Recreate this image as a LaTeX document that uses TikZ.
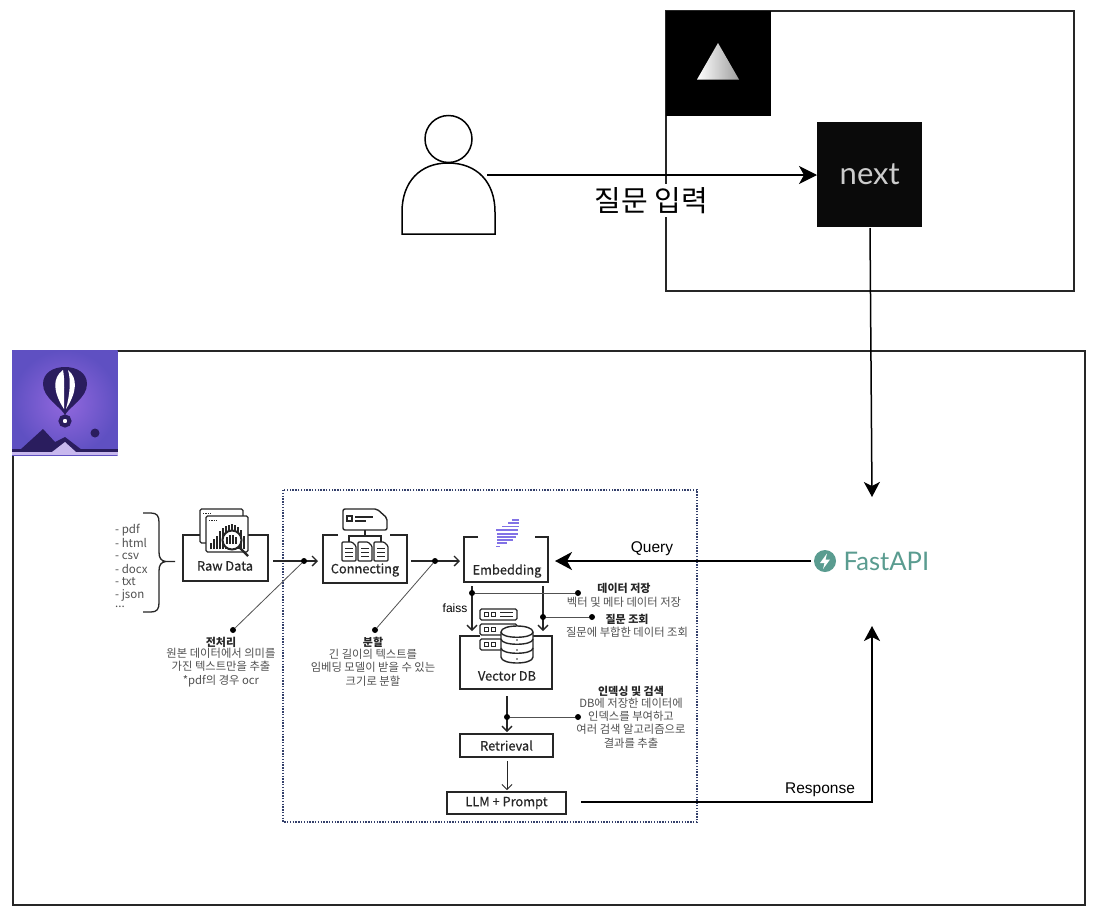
\documentclass[tikz,border=0pt]{standalone}
\usepackage{fontspec}
\setmainfont{Liberation Sans}
\newfontfamily\kr{Noto Sans CJK KR}
\newfontfamily\krm[FakeBold=0.5]{Noto Sans CJK KR}
\newfontfamily\lat{Lato}
\usetikzlibrary{arrows.meta,calc}
\definecolor{navy}{HTML}{2A1D5E}
\definecolor{dotnavy}{HTML}{34406B}
\definecolor{teal}{HTML}{5A9C90}
\definecolor{inkc}{HTML}{262626}
\definecolor{grayc}{HTML}{505050}
\definecolor{stripe}{HTML}{8272E6}
\definecolor{purplein}{HTML}{9268DE}
\definecolor{purpleout}{HTML}{5F50C2}
\definecolor{lav}{HTML}{C8B8EE}
\tikzset{
  frame/.style={draw=black!85,line width=1.5pt},
  strong/.style={draw=black,line width=2pt,-{Stealth[length=17pt,width=18pt,inset=5pt]}},
  thin arrow/.style={draw=inkc,line width=1.3pt,-{Straight Barb[length=5pt,width=10pt]}},
  leader/.style={draw=inkc!80,line width=.8pt},
  pin/.style={circle,fill=black,inner sep=0pt,minimum size=6pt},
  open box/.style={draw=inkc,line width=1.2pt},
  closed box/.style={draw=inkc,line width=1.2pt,fill=white,inner sep=0pt},
  box label/.style={font=\krm\fontsize{12.8}{15}\selectfont,text=inkc,inner sep=0pt},
  head text/.style={font=\kr\bfseries\fontsize{11}{12}\selectfont,text=inkc,inner sep=0pt},
  body text/.style={font=\kr\fontsize{11.3}{13.3}\selectfont,text=grayc,inner sep=0pt,align=center},
  list text/.style={font=\kr\fontsize{11.5}{13}\selectfont,text=grayc,inner sep=0pt,anchor=west},
  icon/.style={draw=inkc,line width=1.3pt,fill=white,rounded corners=1.5pt},
  side label/.style={font=\fontsize{15.5}{17}\selectfont,inner sep=0pt},
}
\begin{document}
\begin{tikzpicture}[x=1pt,y=-1pt]
\useasboundingbox (0,0) rectangle (1108,916);
\fill[white] (0,0) rectangle (1108,916);

% ---------- frames ----------
\draw[frame] (666,11) rectangle (1074,291);
\draw[frame] (13,351) rectangle (1085,905);

% ---------- top black squares ----------
\node[fill=black,minimum size=105pt,inner sep=0pt,anchor=north west] (vercel) at (666,11) {};
\shade[left color=white,middle color=white,right color=black!38]
  (718,43) -- (739,79.5) -- (697,79.5) -- cycle;
\node[fill=black!96,minimum size=105pt,inner sep=0pt,anchor=north west,
      font=\lat\fontsize{31}{33}\selectfont,text=black!20] (next) at (817,122) {next};

% ---------- user ----------
\draw[draw=black,line width=1.5pt,fill=white] (448.5,139) circle (23.5);
\draw[draw=black,line width=1.5pt,fill=white]
  (402,234) -- (402,212) .. controls (402,182) and (420,163) .. (448,163)
  .. controls (477,163) and (495,182) .. (495,212) -- (495,234) -- cycle;
\coordinate (userout) at (487,175);
\coordinate (nextin) at (next.west);
\draw[draw=black,line width=1.6pt,-{Stealth[length=18pt,width=18pt,inset=5pt]}] (userout) -- (nextin |- userout);
\node[fill=white,inner sep=0pt,minimum height=33pt,font=\kr\fontsize{29}{31}\selectfont] (asklabel) at (651.5,200.5) {질문 입력};

% ---------- balloon icon ----------
\node[inner sep=0pt,minimum width=105.5pt,minimum height=105pt,anchor=north west] (logo) at (12,350) {};
\shade[inner color=purplein,outer color=purpleout]
  (12,350) rectangle (117.5,455);
\draw[navy,line width=4pt,fill=white] (65,421) circle (4.5);
\fill[navy] (65,415) .. controls (61,407) and (43,398) .. (43,384)
  .. controls (43,373) and (53,367) .. (65,367)
  .. controls (77,367) and (87,373) .. (87,384)
  .. controls (87,398) and (69,407) .. (65,415) -- cycle;
\fill[white] (63,370) .. controls (52,378) and (53,392) .. (64,409)
  .. controls (64,394) and (65,380) .. (63,370) -- cycle;
\fill[white] (68,370) .. controls (78,378) and (77,392) .. (66,409)
  .. controls (70,394) and (71,380) .. (68,370) -- cycle;
\fill[navy] (95,433) circle (4.5);
\fill[navy] (20,450) -- (43,429) -- (55,442) -- (65,437) -- (82,450) -- cycle;
\fill[navy] (12,449) rectangle (117.5,452);
\fill[lav] (12,452) rectangle (117.5,455);
\fill[lav] (52,452) -- (65,442) -- (76,452) -- cycle;

% ---------- dotted container ----------
\draw[dotnavy,line width=1.4pt,dash pattern=on 1.4pt off 1.4pt] (283,490) rectangle (697,822);

% ---------- source list ----------
\node[list text] (l1) at (115,530) {- pdf};
\node[list text] (l2) at (115,543) {- html};
\node[list text] (l3) at (115,556) {- csv};
\node[list text] (l4) at (115,569) {- docx};
\node[list text] (l5) at (115,582) {- txt};
\node[list text] (l6) at (115,595) {- json};
\node[list text] (l7) at (115,607) {...};
\draw[inkc,line width=1.3pt] (143,513) -- (151,513) .. controls (157,513) and (159,516) .. (159,522)
  -- (159,552) .. controls (159,558) and (161,561) .. (166,561.5) -- (175,561.5)
  (166,561.5) .. controls (161,562) and (159,565) .. (159,571)
  -- (159,603) .. controls (159,609) and (157,612) .. (151,612) -- (143,612);

% ---------- Raw Data ----------
\draw[open box] (200,535) -- (183,535) -- (183,581) -- (268,581) -- (268,535) -- (248,535);
\draw[icon] (200,509) rectangle (243,543);
\draw[inkc,line width=1pt,dash pattern=on 1.2pt off 1.2pt] (203,513) -- (212,513);
\draw[icon] (206,516) rectangle (248,552);
\draw[inkc,line width=1pt,dash pattern=on 1.2pt off 1.2pt] (209,520) -- (218,520);
\foreach \x/\t in {211/543,214/539,217/536,220/531,223/528,226/526,229/525,232/524,235/525,238/527,241/530,244/536}
  \draw[inkc,line width=1.1pt] (\x,549) -- (\x,\t);
\draw[draw=inkc,line width=2pt,fill=white] (232,540) circle (9.5);
\foreach \x/\t in {227/537,230/535,233/535,236/537}
  \draw[inkc,line width=1.1pt] (\x,544) -- (\x,\t);
\draw[inkc,line width=2.4pt] (239,547) -- (248,556);
\node[box label] (raw) at (225,566) {Raw Data};

% ---------- Connecting ----------
\draw[open box] (338,535) -- (323,535) -- (323,583) -- (407,583) -- (407,535) -- (390,535);
\draw[draw=inkc,line width=1.4pt,fill=white,rounded corners=2pt]
  (343,509) -- (377,509) -- (387,518) -- (387,530) -- (343,530) -- cycle;
\draw[inkc,line width=1.1pt] (347,516) rectangle (352,521) (355,517) -- (373,517) (355,521) -- (366,521);
\draw[inkc,line width=1.1pt] (365,530) -- (365,536) (349,542) -- (349,536) -- (381,536) -- (381,542);
\foreach \x in {349,365,381}{
  \draw[draw=inkc,line width=1.2pt,fill=white,rounded corners=1pt] (\x-7,542) -- (\x+3,542) -- (\x+7,546) -- (\x+7,561) -- (\x-7,561) -- cycle;
  \draw[inkc,line width=.9pt] (\x-4,548) -- (\x+4,548) (\x-4,552) -- (\x+4,552) (\x-4,556) -- (\x+4,556);
}
\node[box label] (conn) at (365,570) {Connecting};

% ---------- Embedding ----------
\draw[open box] (478,537) -- (464,537) -- (464,582) -- (548,582) -- (548,537) -- (535,537);
\foreach \y/\a/\b in {520/512/519,523/508/518.5,526.5/502/518.5,530/496/518,534/497/518,537/497/516,540/497/513,543/497/507,546.5/496/500}
  \draw[stripe,line width=1.5pt] (\a,\y) -- (\b,\y);
\node[box label] (emb) at (507,571) {Embedding};

% ---------- Vector DB ----------
\draw[open box] (480,636) -- (460,636) -- (460,689) -- (552,689) -- (552,636) -- (533,636);
\foreach \y in {609,624,639}{
  \draw[icon] (480,\y) rectangle (517,\y+11);
  \draw[inkc,line width=1pt] (484,\y+3.5) rectangle (488,\y+7.5) (491,\y+3.5) rectangle (495,\y+7.5);
}
\draw[inkc,line width=1pt] (500,612.5) -- (513,612.5) (500,616) -- (513,616);
\draw[draw=inkc,line width=1.4pt,fill=white]
  (501,632) -- (501,657) .. controls (501,665) and (533,665) .. (533,657) -- (533,632)
  .. controls (533,624) and (501,624) .. (501,632) -- cycle;
\draw[inkc,line width=1.4pt] (501,632) .. controls (501,639) and (533,639) .. (533,632)
  (501,639) .. controls (501,646) and (533,646) .. (533,639)
  (501,648) .. controls (501,655) and (533,655) .. (533,648);
\foreach \y in {640,650,659} \fill[inkc] (517,\y) circle (.9);
\node[box label] (vdb) at (507,676) {Vector DB};

% ---------- Retrieval / LLM ----------
\node[closed box,minimum width=93pt,minimum height=23pt,box label] (ret) at (506.5,745.5) {Retrieval};
\node[closed box,minimum width=119pt,minimum height=22pt,box label] (llm) at (506.5,803) {LLM + Prompt};

% ---------- flow connectors ----------
\coordinate (rawout) at (273,561);
\coordinate (connin) at (318,561);
\coordinate (connout) at (411,561);
\coordinate (embin) at (460,561);
\draw[thin arrow] (rawout) -- (connin);
\draw[thin arrow] (connout) -- (embin);
\coordinate (emba) at (472,586);
\coordinate (vdba) at (472,631);
\coordinate (embb) at (543,586);
\coordinate (vdbb) at (543,631);
\draw[thin arrow] (emba) -- (vdba);
\draw[thin arrow] (embb) -- (vdbb);
\coordinate (vdbout) at (507,696);
\coordinate (retin) at (507,732);
\draw[thin arrow] (vdbout) -- (retin);
\coordinate (retout) at (507,761);
\coordinate (llmin) at (507,790);
\draw[draw=inkc,line width=.8pt,-{Straight Barb[length=5pt,width=10pt]}] (retout) -- (llmin);

% ---------- leaders ----------
\node[pin] (p1a) at (304,561) {};
\node[pin] (p1b) at (233,630) {};
\draw[leader] (p1a) -- (p1b);
\node[pin] (p2a) at (435,561) {};
\node[pin] (p2b) at (375,630) {};
\draw[leader] (p2a) -- (p2b);
\node[pin] (p3a) at (472,593) {};
\node[pin] (p3b) at (578,593) {};
\draw[leader] (p3a) -- (p3b);
\node[pin] (p4a) at (543,617) {};
\node[pin] (p4b) at (592,617) {};
\draw[leader] (p4a) -- (p4b);
\node[pin] (p5a) at (507,717) {};
\node[pin] (p5b) at (578,717) {};
\draw[leader] (p5a) -- (p5b);

% ---------- captions ----------
\node[head text] (c1h) at (221,642) {전처리};
\node[body text] (c1) at (221,667.5) {원본 데이터에서 의미를\\가진 텍스트만을 추출\\*pdf의 경우 ocr};
\node[head text] (c2h) at (373,642) {분할};
\node[body text] (c2) at (373,667.5) {긴 길이의 텍스트를\\임베딩 모델이 받을 수 있는\\크기로 분할};
\node[head text] (c3h) at (624,588) {데이터 저장};
\node[body text] (c3) at (624,602) {벡터 및 메타 데이터 저장};
\node[head text] (c4h) at (627,619) {질문 조회};
\node[body text] (c4) at (627,632) {질문에 부합한 데이터 조회};
\node[head text] (c5h) at (631,691) {인덱싱 및 검색};
\node[body text] (c5) at (631,723) {DB에 저장한 데이터에\\인덱스를 부여하고\\여러 검색 알고리즘으로\\결과를 추출};

% ---------- FastAPI ----------
\fill[teal] (825,561) circle (11);
\fill[white] (827,553.5) -- (820,563) -- (824.5,563) -- (823,569) -- (830,559.5) -- (825.5,559.5) -- cycle;
\node[inner sep=0pt,anchor=west,text=teal,font=\lat\fontsize{25.6}{27}\selectfont] (fastapi) at (843.5,561) {FastAPI};
\coordinate (fastl) at (811,561);
\coordinate (embq) at (555,561);
\coordinate (fastt) at (872,497);
\coordinate (fastb) at (872,626);
\coordinate (llmout) at (581,802);
\coordinate (nextout) at (870,228);

% ---------- main arrows ----------
\draw[strong] (fastl) -- (embq);
\node[side label] (qlab) at (652,548.5) {Query};
\node[font=\fontsize{12}{14}\selectfont,inner sep=0pt] (flab) at (455,608) {faiss};
\draw[draw=black,line width=1.5pt,-{Stealth[length=15pt,width=16pt,inset=4pt]}] (nextout) -- (fastt);
\draw[draw=black,line width=2pt,-{Stealth[length=15pt,width=16pt,inset=4pt]}] (llmout) -- (fastb |- llmout) -- (fastb);
\node[side label] (rlab) at (820,790) {Response};
\end{tikzpicture}
\end{document}
